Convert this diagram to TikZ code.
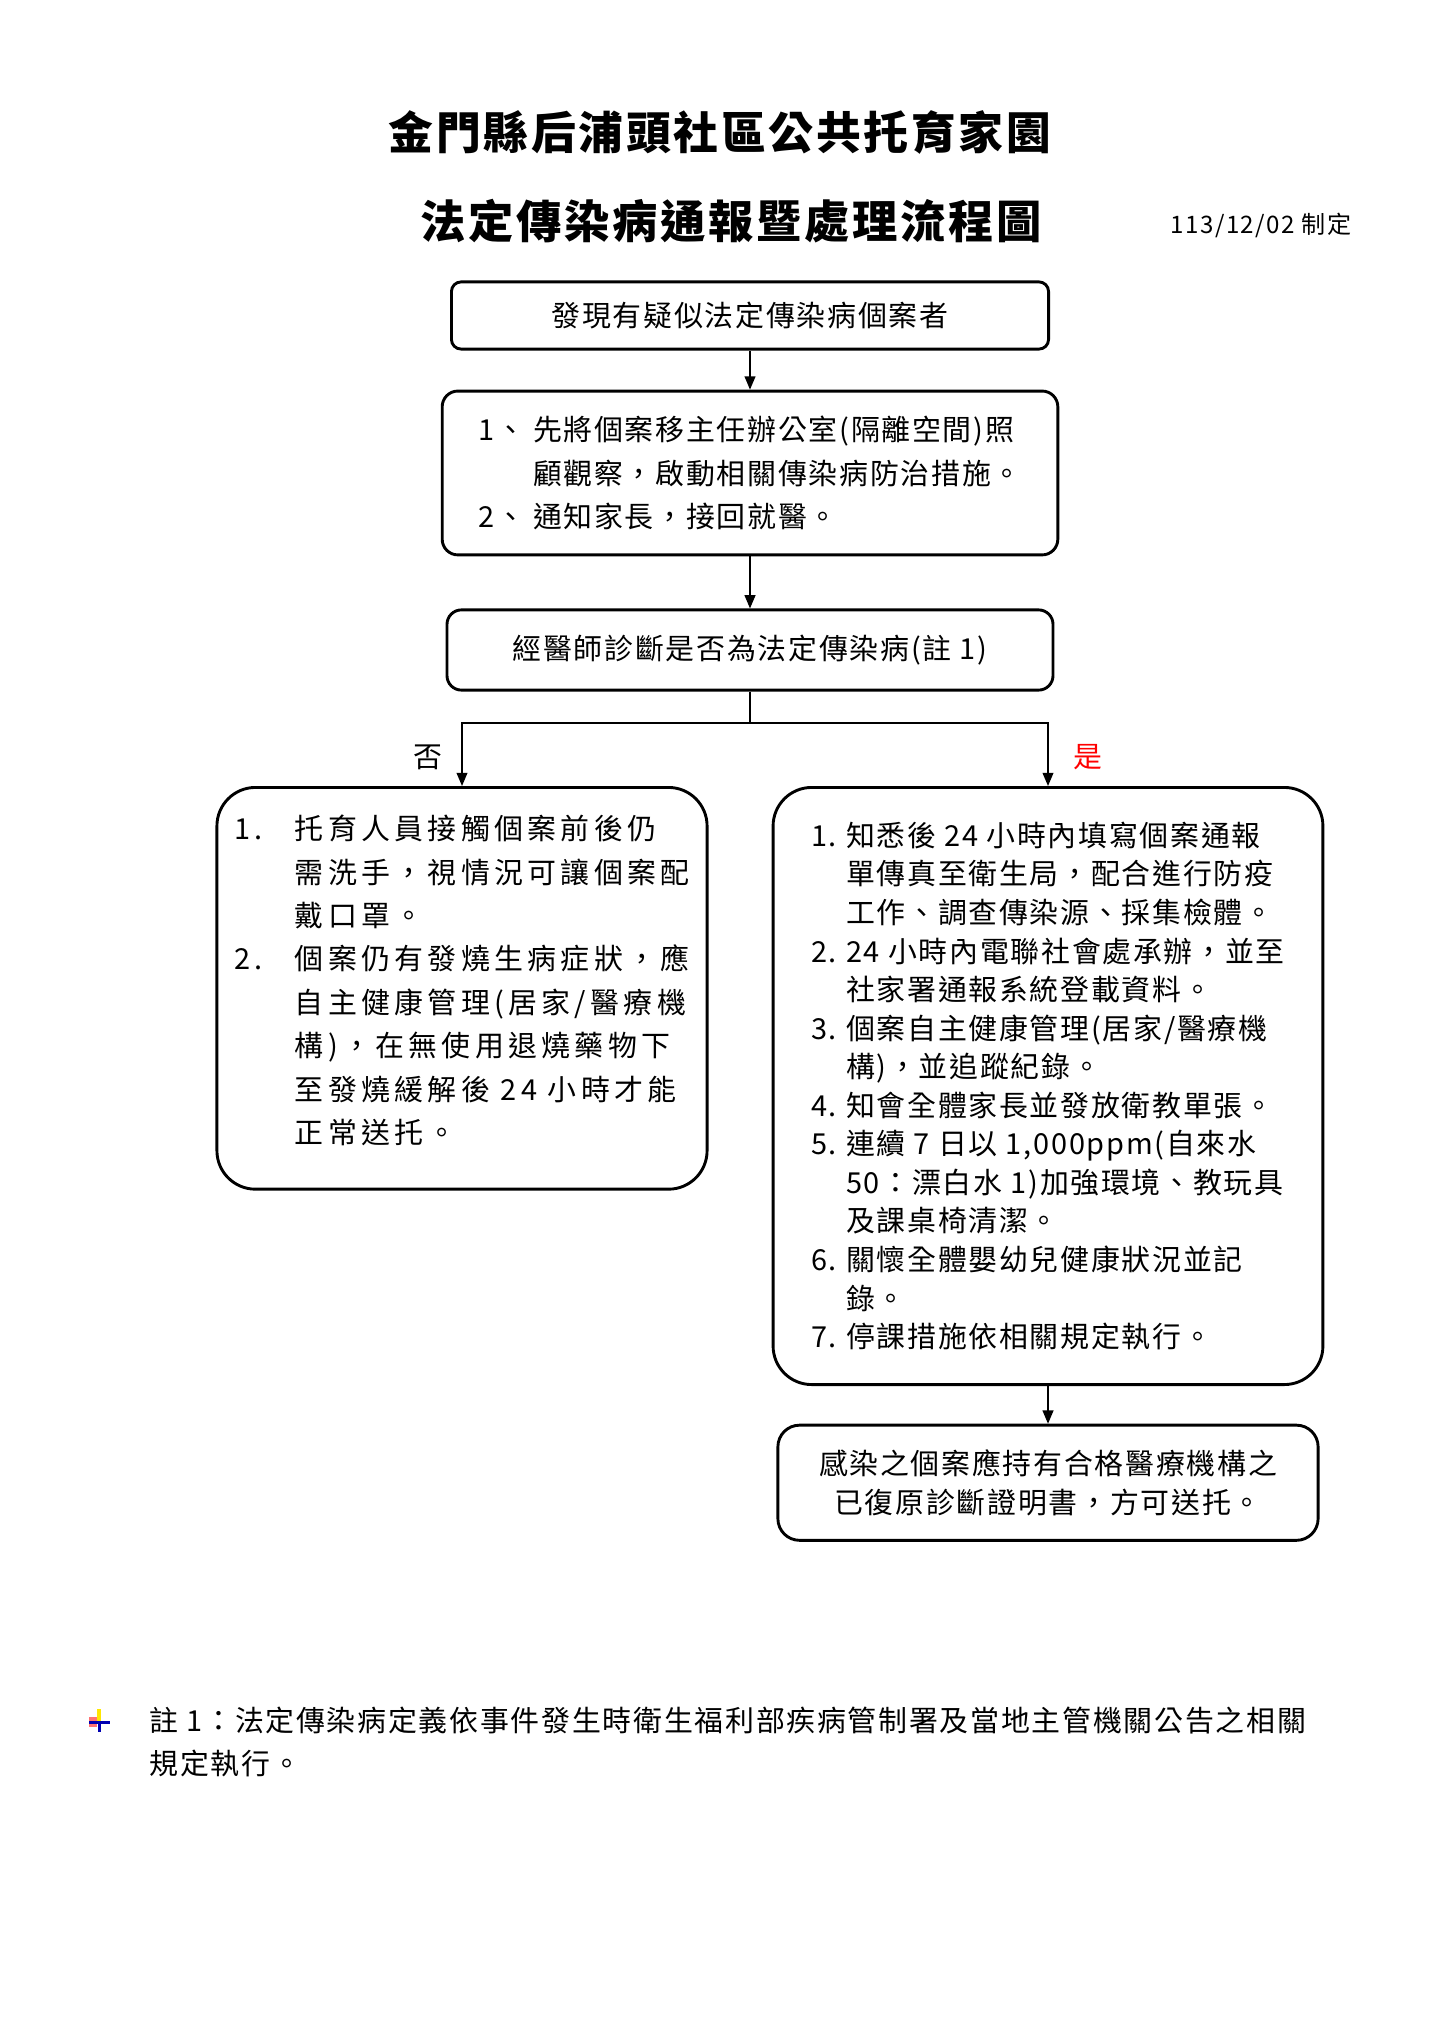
\documentclass[tikz,border=0pt]{standalone}
\usepackage{fontspec}
\setmainfont{Noto Sans CJK TC}[LetterSpace=6]
\newfontfamily\widecjk{Noto Sans CJK TC}[LetterSpace=15]
\usetikzlibrary{arrows.meta, positioning}
\newcommand{\numtag}[2][14.5pt]{\makebox[#1][l]{#2}}

\begin{document}
\begin{tikzpicture}[
    x=0.014583cm, y=-0.014583cm,
    node distance=0.6cm,
    box/.style={draw, line width=1.2pt, rounded corners=#1, inner sep=0pt, align=left, font=\fontsize{12pt}{18pt}\selectfont},
    box/.default=4pt,
    arr/.style={-{Triangle[length=5.5pt, width=4.5pt]}, line width=0.6pt},
    lbl/.style={font=\fontsize{12pt}{14pt}\selectfont}
]
\useasboundingbox (0,0) rectangle (1440,2036);

\node[font=\fontsize{18.6pt}{22pt}\selectfont\bfseries] (title) at (720,132) {金門縣后浦頭社區公共托育家園};
\node[font=\fontsize{18.8pt}{22pt}\selectfont\bfseries] (subtitle) at (731,221) {法定傳染病通報暨處理流程圖};
\node[font=\fontsize{10pt}{12pt}\selectfont] (date) at (1261,225) {113/12/02 制定};

\node[box=4pt, minimum width=8.71cm, minimum height=0.98cm, align=center] (detect) at (750,315.5) {發現有疑似法定傳染病個案者};
\node[box=6.5pt, minimum width=8.98cm, minimum height=2.39cm, below=0.57cm of detect] (isolate) {%
\numtag[22.7pt]{1、}先將個案移主任辦公室(隔離空間)照\\
\numtag[22.7pt]{}顧觀察，啟動相關傳染病防治措施。\\
\numtag[22.7pt]{2、}通知家長，接回就醫。};
\node[box=6pt, minimum width=8.84cm, minimum height=1.17cm, align=center, below=0.76cm of isolate] (diag) {經醫師診斷是否為法定傳染病(註 1)};

\coordinate (split) at (750,723);

\node[box=16pt, minimum width=7.15cm, minimum height=5.86cm, anchor=north, font=\widecjk\fontsize{12pt}{18pt}\selectfont] (nocase) at (462,786) {%
\numtag[25pt]{1.}托育人員接觸個案前後仍\\
\numtag[25pt]{}需洗手，視情況可讓個案配\\
\numtag[25pt]{}戴口罩。\\
\numtag[25pt]{2.}個案仍有發燒生病症狀，應\\
\numtag[25pt]{}自主健康管理(居家/醫療機\\
\numtag[25pt]{}構)，在無使用退燒藥物下\\
\numtag[25pt]{}至發燒緩解後 24 小時才能\\
\numtag[25pt]{}正常送托。\\[-10.5pt]};

\node[box=16pt, minimum width=8.02cm, minimum height=8.71cm, anchor=north, font=\fontsize{12pt}{16pt}\selectfont] (yescase) at (1048,786) {%
\numtag{1.}知悉後 24 小時內填寫個案通報\\
\numtag{}單傳真至衛生局，配合進行防疫\\
\numtag{}工作、調查傳染源、採集檢體。\\
\numtag{2.}24 小時內電聯社會處承辦，並至\\
\numtag{}社家署通報系統登載資料。\\
\numtag{3.}個案自主健康管理(居家/醫療機\\
\numtag{}構)，並追蹤紀錄。\\
\numtag{4.}知會全體家長並發放衛教單張。\\
\numtag{5.}連續 7 日以 1,000ppm(自來水\\
\numtag{}50：漂白水 1)加強環境、教玩具\\
\numtag{}及課桌椅清潔。\\
\numtag{6.}關懷全體嬰幼兒健康狀況並記\\
\numtag{}錄。\\
\numtag{7.}停課措施依相關規定執行。};

\node[box=9pt, minimum width=7.88cm, minimum height=1.68cm, align=center, font=\fontsize{12pt}{16pt}\selectfont, below=0.55cm of yescase] (clearance) {感染之個案應持有合格醫療機構之\\已復原診斷證明書，方可送托。};

\node[lbl] (lblno) at (428,757) {否};
\node[lbl, text=red] (lblyes) at (1088,757) {是};

\draw[arr] (detect) -- (isolate);
\draw[arr] (isolate) -- (diag);
\draw[line width=0.6pt] (diag) -- (split);
\draw[arr] (split) -| (nocase);
\draw[arr] (split) -| (yescase);
\draw[arr] (yescase) -- (clearance);

% note bullet
\fill[yellow!90!orange] (97,1709) rectangle (101,1721);
\fill[red!55] (89,1717) rectangle (97,1727);
\fill[blue!70!black] (89,1721) rectangle (110,1724);
\fill[blue!70!black] (98,1721) rectangle (101,1732);

\node[anchor=north west, align=left, inner sep=0pt, font=\fontsize{12pt}{18pt}\selectfont] (note) at (149,1706) {註 1：法定傳染病定義依事件發生時衛生福利部疾病管制署及當地主管機關公告之相關\\規定執行。};

\end{tikzpicture}
\end{document}
